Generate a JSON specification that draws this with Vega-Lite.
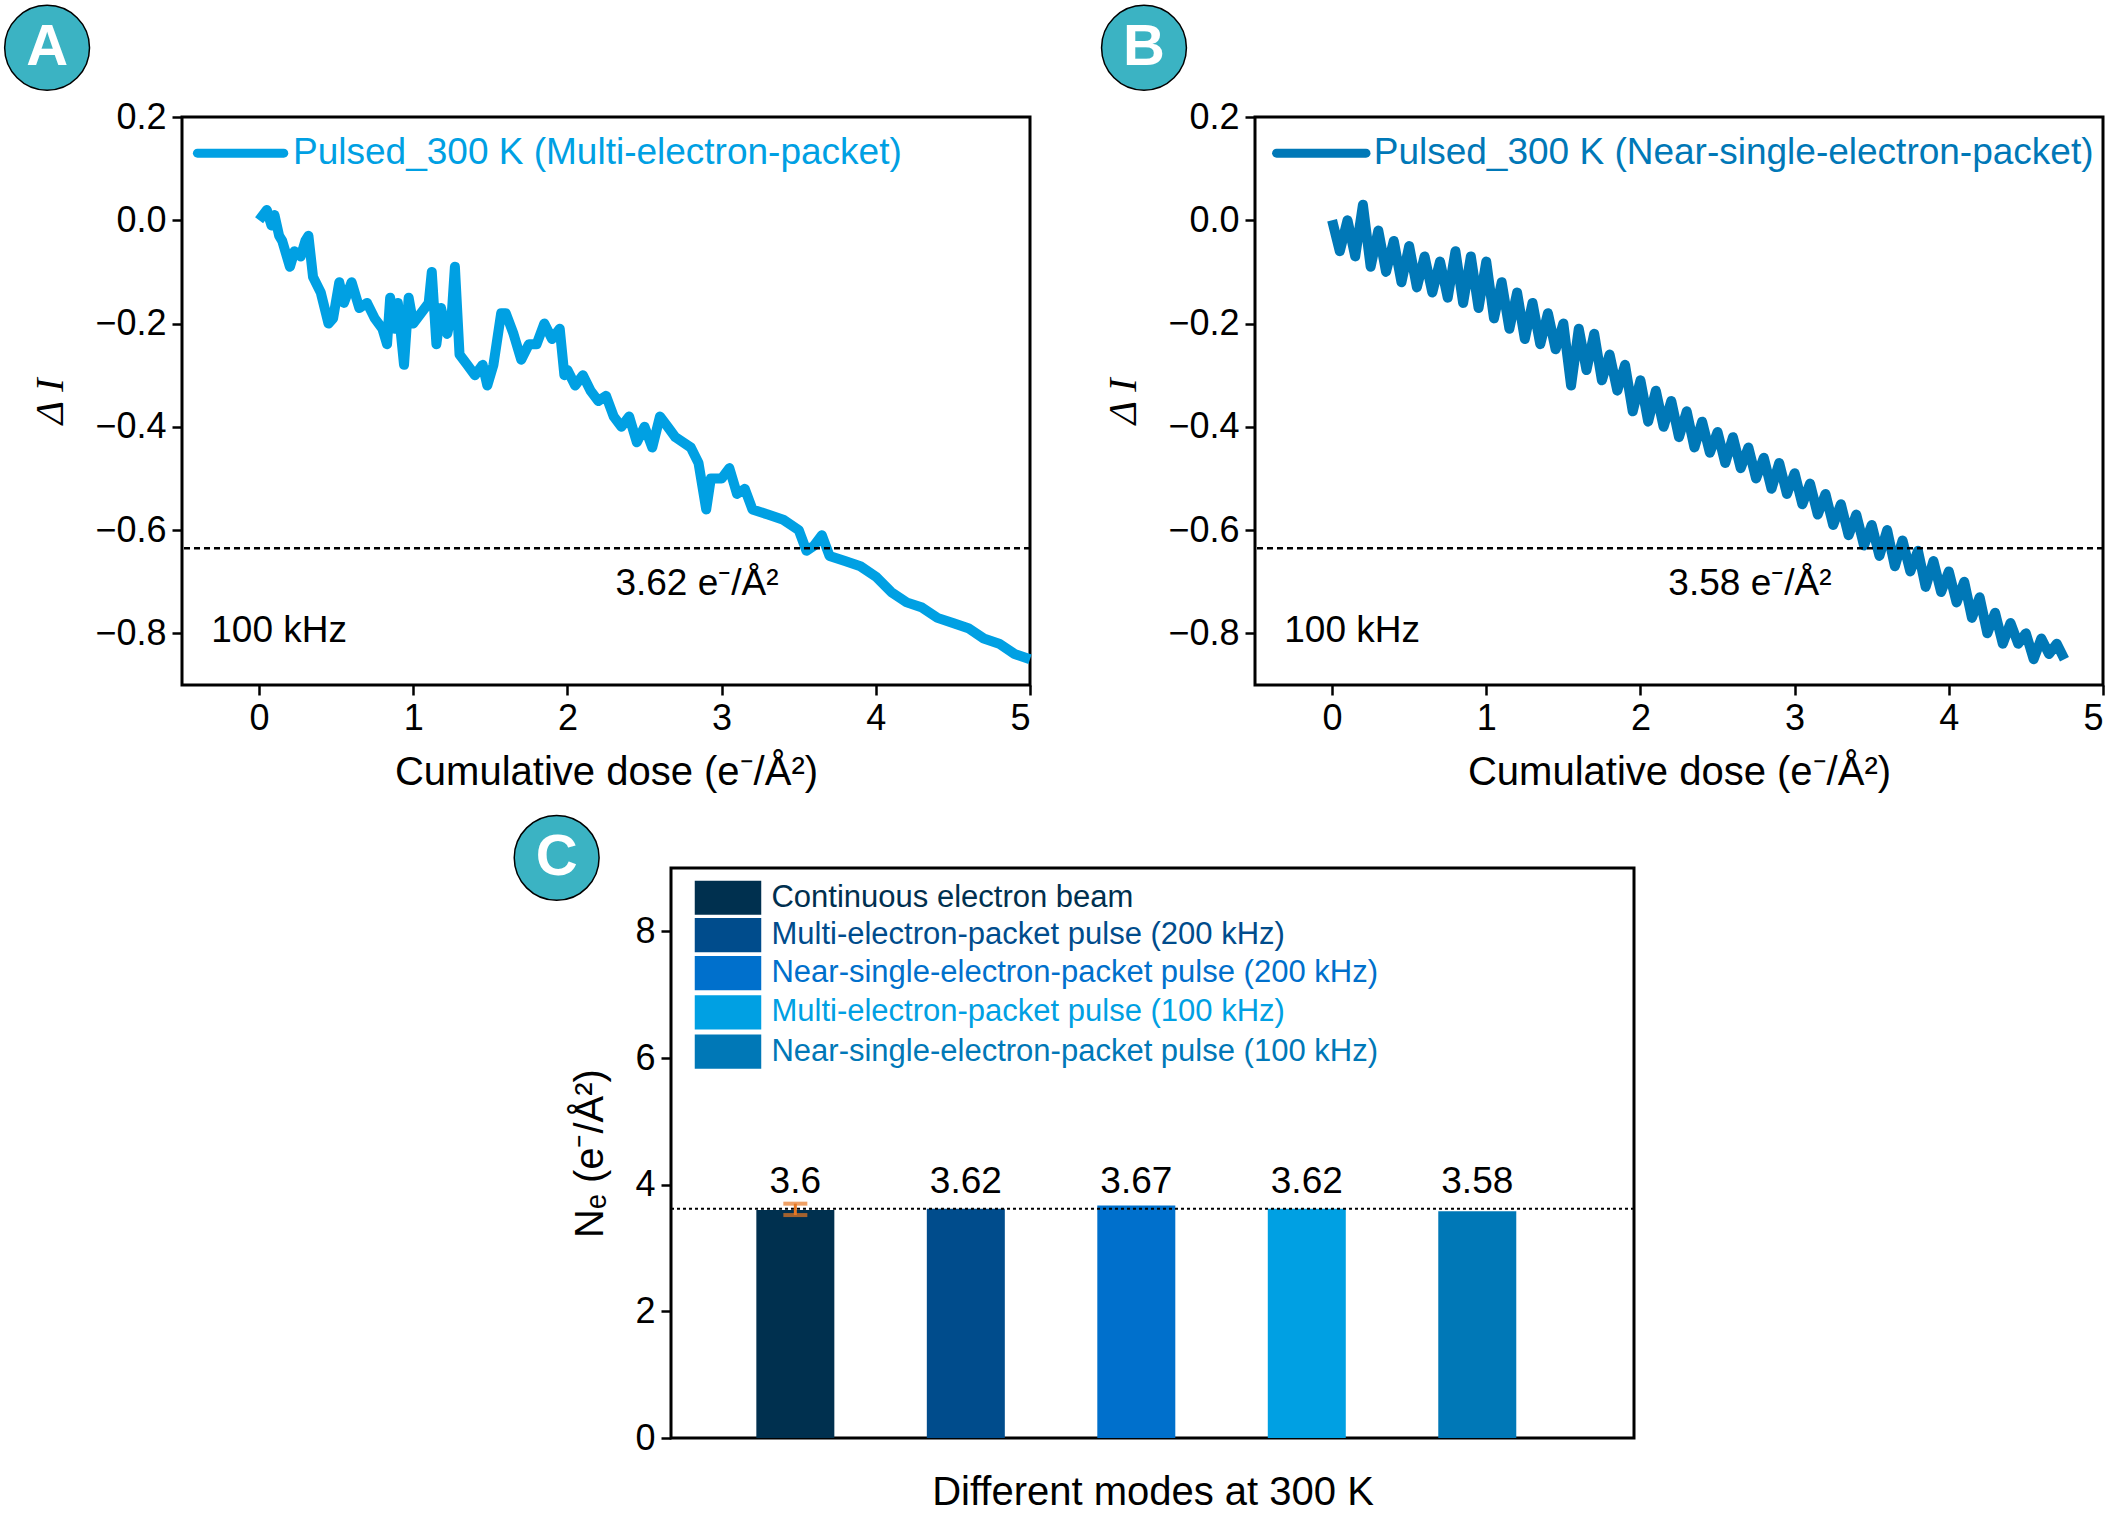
{
  "$schema": "https://vega.github.io/schema/vega-lite/v6.json",
  "padding": 0,
  "background": "white",
  "config": {
    "font": "Liberation Sans",
    "view": {"stroke": "black", "strokeWidth": 3},
    "axis": {"labelFontSize": 36, "titleFontSize": 40, "titleFontWeight": "normal", "labelColor": "black", "titleColor": "black", "domain": false, "grid": false, "tickColor": "black", "tickWidth": 2.5, "tickSize": 10, "labelPadding": 6}
  },
  "datasets": {
    "a": [
      {"x":0,"y":0},{"x":0.05,"y":0.02},{"x":0.08,"y":-0.01},{"x":0.1,"y":0.01},{"x":0.13,"y":-0.03},{"x":0.15,"y":-0.04},{"x":0.2,"y":-0.09},{"x":0.23,"y":-0.06},{"x":0.27,"y":-0.07},{"x":0.3,"y":-0.04},{"x":0.32,"y":-0.03},{"x":0.35,"y":-0.11},{"x":0.4,"y":-0.14},{"x":0.45,"y":-0.2},{"x":0.48,"y":-0.19},{"x":0.52,"y":-0.12},{"x":0.55,"y":-0.16},{"x":0.6,"y":-0.12},{"x":0.65,"y":-0.17},{"x":0.7,"y":-0.16},{"x":0.75,"y":-0.19},{"x":0.8,"y":-0.21},{"x":0.83,"y":-0.24},{"x":0.85,"y":-0.15},{"x":0.88,"y":-0.21},{"x":0.9,"y":-0.16},{"x":0.94,"y":-0.28},{"x":0.97,"y":-0.15},{"x":1.0,"y":-0.2},{"x":1.05,"y":-0.18},{"x":1.1,"y":-0.16},{"x":1.12,"y":-0.1},{"x":1.15,"y":-0.24},{"x":1.18,"y":-0.17},{"x":1.22,"y":-0.22},{"x":1.25,"y":-0.18},{"x":1.27,"y":-0.09},{"x":1.3,"y":-0.26},{"x":1.35,"y":-0.28},{"x":1.4,"y":-0.3},{"x":1.45,"y":-0.28},{"x":1.48,"y":-0.32},{"x":1.52,"y":-0.28},{"x":1.57,"y":-0.18},{"x":1.6,"y":-0.18},{"x":1.65,"y":-0.22},{"x":1.7,"y":-0.27},{"x":1.75,"y":-0.24},{"x":1.8,"y":-0.24},{"x":1.85,"y":-0.2},{"x":1.9,"y":-0.23},{"x":1.95,"y":-0.21},{"x":1.98,"y":-0.3},{"x":2.0,"y":-0.29},{"x":2.05,"y":-0.32},{"x":2.1,"y":-0.3},{"x":2.15,"y":-0.33},{"x":2.2,"y":-0.35},{"x":2.25,"y":-0.34},{"x":2.3,"y":-0.38},{"x":2.35,"y":-0.4},{"x":2.4,"y":-0.38},{"x":2.45,"y":-0.43},{"x":2.5,"y":-0.4},{"x":2.55,"y":-0.44},{"x":2.6,"y":-0.38},{"x":2.65,"y":-0.4},{"x":2.7,"y":-0.42},{"x":2.8,"y":-0.44},{"x":2.85,"y":-0.47},{"x":2.9,"y":-0.56},{"x":2.93,"y":-0.5},{"x":3.0,"y":-0.5},{"x":3.05,"y":-0.48},{"x":3.1,"y":-0.53},{"x":3.15,"y":-0.52},{"x":3.2,"y":-0.56},{"x":3.3,"y":-0.57},{"x":3.4,"y":-0.58},{"x":3.5,"y":-0.6},{"x":3.55,"y":-0.64},{"x":3.6,"y":-0.63},{"x":3.65,"y":-0.61},{"x":3.7,"y":-0.65},{"x":3.8,"y":-0.66},{"x":3.9,"y":-0.67},{"x":4.0,"y":-0.69},{"x":4.1,"y":-0.72},{"x":4.2,"y":-0.74},{"x":4.3,"y":-0.75},{"x":4.4,"y":-0.77},{"x":4.5,"y":-0.78},{"x":4.6,"y":-0.79},{"x":4.7,"y":-0.81},{"x":4.8,"y":-0.82},{"x":4.9,"y":-0.84},{"x":5.0,"y":-0.85}
    ],
    "b": [
      {"x":0,"y":0.0},{"x":0.05,"y":-0.06},{"x":0.1,"y":0.0},{"x":0.15,"y":-0.07},{"x":0.2,"y":0.03},{"x":0.25,"y":-0.09},{"x":0.3,"y":-0.02},{"x":0.35,"y":-0.1},{"x":0.4,"y":-0.04},{"x":0.45,"y":-0.12},{"x":0.5,"y":-0.05},{"x":0.55,"y":-0.13},{"x":0.6,"y":-0.07},{"x":0.65,"y":-0.14},{"x":0.7,"y":-0.08},{"x":0.75,"y":-0.15},{"x":0.8,"y":-0.06},{"x":0.85,"y":-0.16},{"x":0.9,"y":-0.07},{"x":0.95,"y":-0.17},{"x":1.0,"y":-0.08},{"x":1.05,"y":-0.19},{"x":1.1,"y":-0.12},{"x":1.15,"y":-0.21},{"x":1.2,"y":-0.14},{"x":1.25,"y":-0.23},{"x":1.3,"y":-0.16},{"x":1.35,"y":-0.24},{"x":1.4,"y":-0.18},{"x":1.45,"y":-0.25},{"x":1.5,"y":-0.2},{"x":1.55,"y":-0.32},{"x":1.6,"y":-0.21},{"x":1.65,"y":-0.29},{"x":1.7,"y":-0.22},{"x":1.75,"y":-0.31},{"x":1.8,"y":-0.26},{"x":1.85,"y":-0.33},{"x":1.9,"y":-0.28},{"x":1.95,"y":-0.37},{"x":2.0,"y":-0.31},{"x":2.05,"y":-0.39},{"x":2.1,"y":-0.33},{"x":2.15,"y":-0.4},{"x":2.2,"y":-0.35},{"x":2.25,"y":-0.42},{"x":2.3,"y":-0.37},{"x":2.35,"y":-0.44},{"x":2.4,"y":-0.39},{"x":2.45,"y":-0.45},{"x":2.5,"y":-0.41},{"x":2.55,"y":-0.47},{"x":2.6,"y":-0.42},{"x":2.65,"y":-0.48},{"x":2.7,"y":-0.44},{"x":2.75,"y":-0.5},{"x":2.8,"y":-0.46},{"x":2.85,"y":-0.52},{"x":2.9,"y":-0.47},{"x":2.95,"y":-0.53},{"x":3.0,"y":-0.49},{"x":3.05,"y":-0.55},{"x":3.1,"y":-0.51},{"x":3.15,"y":-0.57},{"x":3.2,"y":-0.53},{"x":3.25,"y":-0.59},{"x":3.3,"y":-0.55},{"x":3.35,"y":-0.61},{"x":3.4,"y":-0.57},{"x":3.45,"y":-0.63},{"x":3.5,"y":-0.59},{"x":3.55,"y":-0.65},{"x":3.6,"y":-0.6},{"x":3.65,"y":-0.67},{"x":3.7,"y":-0.62},{"x":3.75,"y":-0.68},{"x":3.8,"y":-0.64},{"x":3.85,"y":-0.71},{"x":3.9,"y":-0.66},{"x":3.95,"y":-0.72},{"x":4.0,"y":-0.68},{"x":4.05,"y":-0.74},{"x":4.1,"y":-0.7},{"x":4.15,"y":-0.77},{"x":4.2,"y":-0.73},{"x":4.25,"y":-0.8},{"x":4.3,"y":-0.76},{"x":4.35,"y":-0.82},{"x":4.4,"y":-0.78},{"x":4.45,"y":-0.82},{"x":4.5,"y":-0.8},{"x":4.55,"y":-0.85},{"x":4.6,"y":-0.81},{"x":4.65,"y":-0.84},{"x":4.7,"y":-0.82},{"x":4.75,"y":-0.85}
    ],
    "bars": [
      {"pos":1,"mode":"Continuous electron beam","ne":3.6,"lbl":"3.6","ly":8.53,"l0":8.26,"l1":8.8,"c":"#00304F"},
      {"pos":2,"mode":"Multi-electron-packet pulse (200 kHz)","ne":3.62,"lbl":"3.62","ly":7.94,"l0":7.67,"l1":8.21,"c":"#004C8C"},
      {"pos":3,"mode":"Near-single-electron-packet pulse (200 kHz)","ne":3.67,"lbl":"3.67","ly":7.34,"l0":7.07,"l1":7.61,"c":"#0070CC"},
      {"pos":4,"mode":"Multi-electron-packet pulse (100 kHz)","ne":3.62,"lbl":"3.62","ly":6.72,"l0":6.45,"l1":6.99,"c":"#00A0E3"},
      {"pos":5,"mode":"Near-single-electron-packet pulse (100 kHz)","ne":3.58,"lbl":"3.58","ly":6.1,"l0":5.83,"l1":6.37,"c":"#0078B7"}
    ]
  },
  "vconcat": [
    {
      "hconcat": [
        {
          "width": 848, "height": 568,
          "layer": [
            {"data": {"name": "a"}, "mark": {"type": "line", "color": "#00A0E3", "strokeWidth": 10, "strokeJoin": "round"},
             "encoding": {
               "x": {"field": "x", "type": "quantitative", "scale": {"domain": [-0.5, 5], "nice": false}, "axis": {"values": [0,1,2,3,4,5], "format": "d", "title": "Cumulative dose (e⁻/Å²)", "titlePadding": 16}},
               "y": {"field": "y", "type": "quantitative", "scale": {"domain": [-0.9, 0.2], "nice": false}, "axis": {"values": [-0.8,-0.6,-0.4,-0.2,0,0.2], "format": ".1f", "title": "Δ I", "titleFont": "Liberation Serif", "titleFontStyle": "italic", "titleFontSize": 40, "titlePadding": 24}}
             }},
            {"data": {"values": [{}]}, "mark": {"type": "rule", "strokeDash": [6, 4], "strokeWidth": 2.5, "color": "black"}, "encoding": {"y": {"datum": -0.635}}},
            {"data": {"values": [{}]}, "mark": {"type": "rule", "strokeWidth": 9, "color": "#00A0E3", "strokeCap": "round"}, "encoding": {"x": {"datum": -0.4}, "x2": {"datum": 0.16}, "y": {"datum": 0.13}}},
            {"data": {"values": [{"t": "Pulsed_300 K (Multi-electron-packet)"}]}, "mark": {"type": "text", "align": "left", "fontSize": 37, "color": "#00A0E3"}, "encoding": {"x": {"datum": 0.22}, "y": {"datum": 0.13}, "text": {"field": "t"}}},
            {"data": {"values": [{"t": "3.62 e⁻/Å²"}]}, "mark": {"type": "text", "fontSize": 37, "color": "black"}, "encoding": {"x": {"datum": 2.84}, "y": {"datum": -0.705}, "text": {"field": "t"}}},
            {"data": {"values": [{"t": "100 kHz"}]}, "mark": {"type": "text", "fontSize": 37, "color": "black"}, "encoding": {"x": {"datum": 0.13}, "y": {"datum": -0.795}, "text": {"field": "t"}}},
            {"data": {"values": [{}]}, "mark": {"type": "point", "shape": "circle", "size": 7200, "filled": true, "color": "#3BB3C3", "stroke": "black", "strokeWidth": 1.5, "opacity": 1, "clip": false}, "encoding": {"x": {"datum": -1.375}, "y": {"datum": 0.334}}},
            {"data": {"values": [{"t": "A"}]}, "mark": {"type": "text", "fontSize": 58, "fontWeight": "bold", "color": "white"}, "encoding": {"x": {"datum": -1.375}, "y": {"datum": 0.334}, "text": {"field": "t"}}}
          ]
        },
        {
          "width": 848, "height": 568,
          "layer": [
            {"data": {"name": "b"}, "mark": {"type": "line", "color": "#0078B7", "strokeWidth": 10, "strokeJoin": "round"},
             "encoding": {
               "x": {"field": "x", "type": "quantitative", "scale": {"domain": [-0.5, 5], "nice": false}, "axis": {"values": [0,1,2,3,4,5], "format": "d", "title": "Cumulative dose (e⁻/Å²)", "titlePadding": 16}},
               "y": {"field": "y", "type": "quantitative", "scale": {"domain": [-0.9, 0.2], "nice": false}, "axis": {"values": [-0.8,-0.6,-0.4,-0.2,0,0.2], "format": ".1f", "title": "Δ I", "titleFont": "Liberation Serif", "titleFontStyle": "italic", "titleFontSize": 40, "titlePadding": 24}}
             }},
            {"data": {"values": [{}]}, "mark": {"type": "rule", "strokeDash": [6, 4], "strokeWidth": 2.5, "color": "black"}, "encoding": {"y": {"datum": -0.635}}},
            {"data": {"values": [{}]}, "mark": {"type": "rule", "strokeWidth": 9, "color": "#0078B7", "strokeCap": "round"}, "encoding": {"x": {"datum": -0.36}, "x2": {"datum": 0.22}, "y": {"datum": 0.13}}},
            {"data": {"values": [{"t": "Pulsed_300 K (Near-single-electron-packet)"}]}, "mark": {"type": "text", "align": "left", "fontSize": 37, "color": "#0078B7"}, "encoding": {"x": {"datum": 0.27}, "y": {"datum": 0.13}, "text": {"field": "t"}}},
            {"data": {"values": [{"t": "3.58 e⁻/Å²"}]}, "mark": {"type": "text", "fontSize": 37, "color": "black"}, "encoding": {"x": {"datum": 2.71}, "y": {"datum": -0.705}, "text": {"field": "t"}}},
            {"data": {"values": [{"t": "100 kHz"}]}, "mark": {"type": "text", "fontSize": 37, "color": "black"}, "encoding": {"x": {"datum": 0.13}, "y": {"datum": -0.795}, "text": {"field": "t"}}},
            {"data": {"values": [{}]}, "mark": {"type": "point", "shape": "circle", "size": 7200, "filled": true, "color": "#3BB3C3", "stroke": "black", "strokeWidth": 1.5, "opacity": 1, "clip": false}, "encoding": {"x": {"datum": -1.22}, "y": {"datum": 0.334}}},
            {"data": {"values": [{"t": "B"}]}, "mark": {"type": "text", "fontSize": 58, "fontWeight": "bold", "color": "white"}, "encoding": {"x": {"datum": -1.22}, "y": {"datum": 0.334}, "text": {"field": "t"}}}
          ]
        }
      ],
      "spacing": 60
    },
    {
      "hconcat": [
        {"width": 317, "height": 10, "view": {"stroke": null}, "data": {"values": [{}]}, "mark": {"type": "point", "opacity": 0}, "encoding": {}},
        {
          "width": 963, "height": 570,
          "data": {"name": "bars"},
          "layer": [
            {"mark": {"type": "bar", "width": 78},
             "encoding": {
               "x": {"field": "pos", "type": "quantitative", "scale": {"domain": [0.3, 5.89], "nice": false, "zero": false}, "axis": {"values": [], "title": "Different  modes at 300 K", "titlePadding": 34}},
               "y": {"field": "ne", "type": "quantitative", "scale": {"domain": [0, 9], "nice": false}, "axis": {"values": [0,2,4,6,8], "format": "d", "title": "Nₑ (e⁻/Å²)", "titlePadding": 24}},
               "color": {"field": "c", "type": "nominal", "scale": null}
             }},
            {"mark": {"type": "text", "fontSize": 37, "color": "black"}, "encoding": {"x": {"field": "pos", "type": "quantitative"}, "y": {"datum": 4.04}, "text": {"field": "lbl"}}},
            {"mark": {"type": "rect"}, "encoding": {"x": {"datum": 0.41}, "x2": {"datum": 0.8}, "y": {"field": "l0", "type": "quantitative"}, "y2": {"field": "l1"}, "color": {"field": "c", "type": "nominal", "scale": null}}},
            {"mark": {"type": "text", "align": "left", "fontSize": 31}, "encoding": {"x": {"datum": 0.86}, "y": {"field": "ly", "type": "quantitative"}, "text": {"field": "mode"}, "color": {"field": "c", "type": "nominal", "scale": null}}},
            {"data": {"values": [{}]}, "mark": {"type": "rule", "strokeDash": [3, 3], "strokeWidth": 2, "color": "black"}, "encoding": {"y": {"datum": 3.62}}},
            {"data": {"values": [{"lo": 3.52, "hi": 3.7}]}, "mark": {"type": "rule", "color": "#E87722", "strokeWidth": 3}, "encoding": {"x": {"datum": 1}, "y": {"field": "lo", "type": "quantitative"}, "y2": {"field": "hi"}}},
            {"data": {"values": [{"v": 3.52}, {"v": 3.7}]}, "mark": {"type": "tick", "orient": "horizontal", "color": "#E87722", "thickness": 4, "size": 24}, "encoding": {"x": {"datum": 1}, "y": {"field": "v", "type": "quantitative"}}},
            {"data": {"values": [{}]}, "mark": {"type": "point", "shape": "circle", "size": 7200, "filled": true, "color": "#3BB3C3", "stroke": "black", "strokeWidth": 1.5, "opacity": 1, "clip": false}, "encoding": {"x": {"datum": -0.4}, "y": {"datum": 9.16}}},
            {"data": {"values": [{"t": "C"}]}, "mark": {"type": "text", "fontSize": 58, "fontWeight": "bold", "color": "white"}, "encoding": {"x": {"datum": -0.4}, "y": {"datum": 9.16}, "text": {"field": "t"}}}
          ]
        }
      ],
      "spacing": 10
    }
  ],
  "spacing": 16
}
